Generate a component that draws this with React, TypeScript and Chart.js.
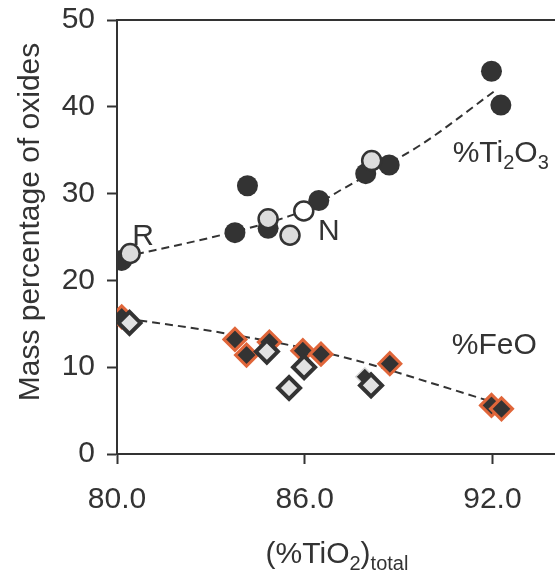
import React, { useEffect, useRef } from "react";
import { Chart, registerables } from "chart.js";

Chart.register(...registerables);

// ---- data ----
const xTicks = [80, 86, 92];
const yTicks = [0, 10, 20, 30, 40, 50];

const ti2o3Solid = [
  { x: 80.15, y: 22.3 }, { x: 83.77, y: 25.5 }, { x: 84.17, y: 30.9 },
  { x: 84.83, y: 26.0 }, { x: 86.45, y: 29.2 }, { x: 87.95, y: 32.3 },
  { x: 88.7, y: 33.3 }, { x: 91.97, y: 44.1 }, { x: 92.27, y: 40.2 },
];
const ti2o3Grey = [
  { x: 80.42, y: 23.1 }, { x: 84.83, y: 27.1 }, { x: 85.53, y: 25.2 }, { x: 88.14, y: 33.8 },
];
const ti2o3Open = [{ x: 85.97, y: 28.0 }];
const ti2o3Trend = [
  { x: 80.2, y: 22.7 }, { x: 83.3, y: 25.2 }, { x: 85.5, y: 27.4 }, { x: 86.3, y: 28.6 },
  { x: 87.1, y: 30.3 }, { x: 89.7, y: 35.6 }, { x: 92.1, y: 41.9 },
];

const feoOrange = [
  { x: 80.15, y: 15.8 }, { x: 83.77, y: 13.2 }, { x: 84.14, y: 11.4 },
  { x: 84.87, y: 12.9 }, { x: 85.94, y: 11.9 }, { x: 86.52, y: 11.5 },
  { x: 88.72, y: 10.4 }, { x: 91.97, y: 5.6 }, { x: 92.29, y: 5.2 },
];
const feoBlack = [{ x: 87.92, y: 8.9 }];
const feoOpen = [
  { x: 80.4, y: 15.1 }, { x: 84.79, y: 11.8 }, { x: 85.5, y: 7.6 },
  { x: 85.98, y: 10.0 }, { x: 88.12, y: 7.9 },
];
const feoTrend = [
  { x: 80.3, y: 15.6 }, { x: 83.3, y: 14.0 }, { x: 87.2, y: 11.2 },
  { x: 90.3, y: 7.9 }, { x: 91.9, y: 6.1 },
];

// annotation labels: runs of [text, isSubscript], anchored in data coordinates
const labels = [
  { runs: [["R", false]], x: 80.83, y: 25.4, align: "center" },
  { runs: [["N", false]], x: 86.77, y: 25.9, align: "center" },
  { runs: [["%Ti", false], ["2", true], ["O", false], ["3", true]], x: 90.73, y: 34.9, align: "left" },
  { runs: [["%FeO", false]], x: 90.7, y: 12.8, align: "left" },
];

const FONT = "'Liberation Sans', Arial, Helvetica, sans-serif";
const INK = "#333333";
const MAIN = 30;
const SUB = 20;

function drawRuns(ctx: CanvasRenderingContext2D, runs: any[], x: number, baseline: number, align: string) {
  let total = 0;
  const widths = runs.map(([t, sub]) => {
    ctx.font = `${sub ? SUB : MAIN}px ${FONT}`;
    const w = ctx.measureText(t).width;
    total += w;
    return w;
  });
  let cx = align === "center" ? x - total / 2 : x;
  runs.forEach(([t, sub], i) => {
    ctx.font = `${sub ? SUB : MAIN}px ${FONT}`;
    ctx.textAlign = "left";
    ctx.textBaseline = "alphabetic";
    ctx.fillText(t, cx, baseline + (sub ? 7 : 0));
    cx += widths[i];
  });
}

const textPlugin = {
  id: "textPlugin",
  afterDraw(chart: any) {
    const ctx = chart.ctx as CanvasRenderingContext2D;
    const { chartArea } = chart;
    const xs = chart.scales.x;
    const ys = chart.scales.y;
    ctx.save();
    // top border
    ctx.strokeStyle = INK;
    ctx.lineWidth = 2;
    ctx.beginPath();
    ctx.moveTo(chartArea.left, chartArea.top);
    ctx.lineTo(chartArea.right, chartArea.top);
    ctx.stroke();

    ctx.fillStyle = INK;
    labels.forEach((l) => {
      const px = xs.getPixelForValue(l.x);
      const py = ys.getPixelForValue(l.y);
      drawRuns(ctx, l.runs, px, py + 11, l.align);
    });

    // y title
    ctx.save();
    ctx.translate(31, 222);
    ctx.rotate(-Math.PI / 2);
    ctx.font = `${MAIN}px ${FONT}`;
    ctx.textAlign = "center";
    ctx.textBaseline = "middle";
    ctx.fillText("Mass percentage of oxides", 0, 0);
    ctx.restore();

    // x title
    drawRuns(ctx, [["(%TiO", false], ["2", true], [")", false], ["total", true]], 337, 563, "center");
    ctx.restore();
  },
};

export default function App() {
  const ref = useRef<HTMLCanvasElement | null>(null);
  useEffect(() => {
    if (!ref.current) return;
    const chart = new Chart(ref.current, {
      type: "scatter",
      data: {
        datasets: [
          {
            label: "Ti2O3 open", data: ti2o3Open, order: 1,
            pointStyle: "circle", pointRadius: 9.5, backgroundColor: "#ffffff", borderColor: INK, borderWidth: 2.5,
          },
          {
            label: "Ti2O3 grey", data: ti2o3Grey, order: 2,
            pointStyle: "circle", pointRadius: 9.5, backgroundColor: "#dcdcdc", borderColor: INK, borderWidth: 2.5,
          },
          {
            label: "Ti2O3 solid", data: ti2o3Solid, order: 3,
            pointStyle: "circle", pointRadius: 10.5, backgroundColor: INK, borderColor: INK, borderWidth: 0,
          },
          {
            label: "FeO open", data: feoOpen, order: 4,
            pointStyle: "rectRot", pointRadius: 11, backgroundColor: "#e2e2e2", borderColor: INK, borderWidth: 4,
          },
          {
            label: "FeO black", data: feoBlack, order: 5,
            pointStyle: "rectRot", pointRadius: 9, backgroundColor: INK, borderColor: "#d8d8d8", borderWidth: 1.5,
          },
          {
            label: "FeO orange", data: feoOrange, order: 6,
            pointStyle: "rectRot", pointRadius: 11, backgroundColor: INK, borderColor: "#e0663a", borderWidth: 3,
          },
          {
            type: "line", label: "Ti2O3 trend", data: ti2o3Trend, order: 7,
            borderColor: INK, borderWidth: 2, borderDash: [8, 5], pointRadius: 0,
            cubicInterpolationMode: "monotone", fill: false, showLine: true,
          } as any,
          {
            type: "line", label: "FeO trend", data: feoTrend, order: 8,
            borderColor: INK, borderWidth: 2, borderDash: [8, 5], pointRadius: 0,
            cubicInterpolationMode: "monotone", fill: false, showLine: true,
          } as any,
        ],
      },
      options: {
        responsive: false,
        animation: false,
        layout: { padding: { top: 20, right: 0, left: 0, bottom: 0 }, autoPadding: false },
        plugins: { legend: { display: false }, tooltip: { enabled: false }, title: { display: false } },
        scales: {
          x: {
            type: "linear",
            min: 80,
            max: 94,
            afterBuildTicks: (s: any) => { s.ticks = xTicks.map((v) => ({ value: v })); },
            afterFit: (s: any) => { s.height = 117; s.paddingLeft = 0; s.paddingRight = 0; },
            ticks: {
              color: INK,
              font: { family: FONT, size: MAIN },
              padding: 18,
              maxRotation: 0,
              callback: (v: any) => Number(v).toFixed(1),
            },
            grid: { display: true, drawOnChartArea: false, drawTicks: true, tickLength: 10, tickWidth: 2, tickColor: INK },
            border: { display: true, color: INK, width: 2 },
          },
          y: {
            type: "linear",
            min: 0,
            max: 50,
            afterBuildTicks: (s: any) => { s.ticks = yTicks.map((v) => ({ value: v })); },
            afterFit: (s: any) => { s.width = 117; s.paddingTop = 0; s.paddingBottom = 0; },
            ticks: { color: INK, font: { family: FONT, size: MAIN }, padding: 12 },
            grid: { display: true, drawOnChartArea: false, drawTicks: true, tickLength: 10, tickWidth: 2, tickColor: INK },
            border: { display: true, color: INK, width: 2 },
          },
        },
      },
      plugins: [textPlugin],
    });
    return () => chart.destroy();
  }, []);
  return (
    <div style={{ position: "absolute", left: 0, top: 0, width: 555, height: 571, background: "#fff" }}>
      <canvas ref={ref} width={555} height={571} />
    </div>
  );
}
